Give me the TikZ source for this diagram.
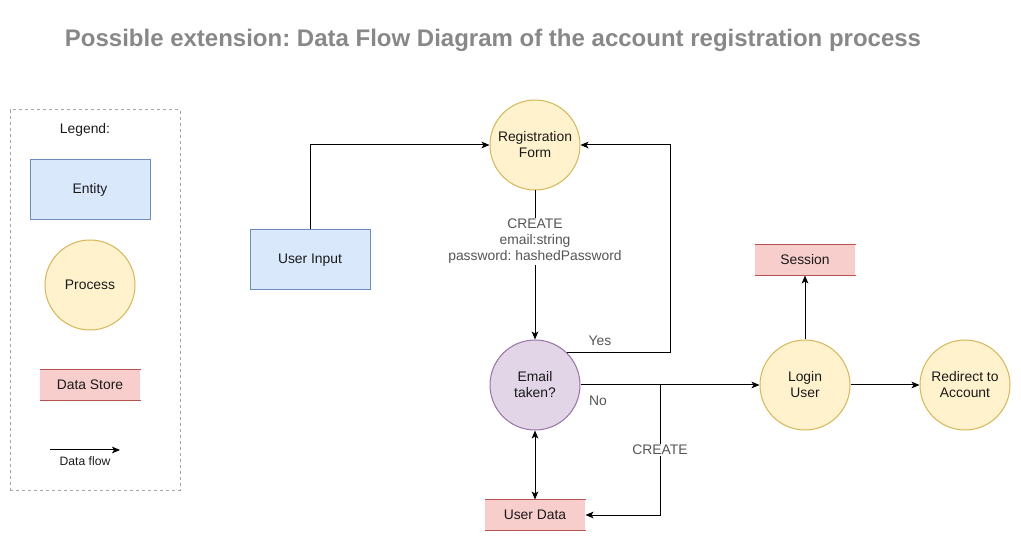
\documentclass[tikz,border=0pt]{standalone}
\usepackage{fontspec}
\setmainfont{Liberation Sans}
\frenchspacing
\usetikzlibrary{arrows.meta}
\definecolor{entityfill}{HTML}{DAE8FC}
\definecolor{entityline}{HTML}{6C8EBF}
\definecolor{procfill}{HTML}{FFF2CC}
\definecolor{procline}{HTML}{D6B656}
\definecolor{decfill}{HTML}{E1D5E7}
\definecolor{decline}{HTML}{9673A6}
\definecolor{storefill}{HTML}{F8CECC}
\definecolor{storeline}{HTML}{B85450}
\definecolor{titlegray}{HTML}{888888}
\definecolor{lblgray}{HTML}{555555}
\definecolor{txt}{HTML}{1A1A1A}
\begin{document}
\begin{tikzpicture}[x=0.75pt,y=-0.75pt,line width=0.75pt,
    >={Stealth[length=6pt,width=5pt,inset=1.5pt]},
    font=\fontsize{10.4}{12}\selectfont,
    entity/.style={draw=entityline,fill=entityfill,text=txt,minimum width=90pt,minimum height=45pt,inner sep=0pt},
    process/.style={circle,draw=procline,fill=procfill,text=txt,minimum size=67.5pt,inner sep=0pt,align=center},
    decision/.style={process,draw=decline,fill=decfill},
    datastore/.style={fill=storefill,text=txt,minimum width=75pt,minimum height=22.5pt,inner sep=0pt,
        append after command={(\tikzlastnode.north west) edge[draw=storeline] (\tikzlastnode.north east)
            (\tikzlastnode.south west) edge[draw=storeline] (\tikzlastnode.south east)}},
    lbl/.style={text=lblgray,align=center,inner sep=1pt}]
    \useasboundingbox (0,0) rectangle (1021,541);

    % title
    \node[text=titlegray,font=\fontsize{18}{21}\selectfont\bfseries] (title) at (493,40) {Possible extension: Data Flow Diagram of the account registration process};

    % legend
    \node[draw=gray!70,dash pattern=on 2.25pt off 2.25pt,minimum width=127.5pt,minimum height=285pt,inner sep=0pt] (legendbox) at (95,300) {};
    \node[text=txt] (legendtitle) at (85,130) {Legend:};
    \node[entity] (entitykey) at (90,190) {Entity};
    \node[process] (processkey) at (90,285) {Process};
    \node[datastore] (storekey) at (90,385) {Data Store};
    \coordinate (flowstart) at (50,450);
    \coordinate (flowend) at (120,450);
    \draw[->] (flowstart) -- (flowend);
    \node[text=txt,font=\fontsize{9.1}{11}\selectfont] (flowkey) at (85,461) {Data flow};

    % diagram
    \node[entity] (userinput) at (310,260) {User Input};
    \node[process] (regform) at (535,145) {Registration\\Form};
    \node[decision] (email) at (535,385) {Email\\taken?};
    \node[process] (login) at (805,385) {Login\\User};
    \node[process] (redirect) at (965,385) {Redirect to\\Account};
    \node[datastore] (session) at (805,260) {Session};
    \node[datastore] (userdata) at (535,515) {User Data};

    \coordinate (yesturn) at (670,145);
    \coordinate (split) at (660,385);

    \draw[->] (userinput.north) |- (regform.west);
    \draw[->] (regform.south) -- node[lbl,fill=white,pos=0.34] (createlbl) {CREATE\\email:string\\password: hashedPassword} (email.north);
    \draw[->] (email.45) -| (yesturn) -- (regform.east);
    \node[lbl] (yes) at (600,341) {Yes};
    \draw[->] (email.east) -- (login.west);
    \node[lbl] (no) at (598,401) {No};
    \draw[->] (split) |- node[lbl,fill=white,pos=0.25] (createdata) {CREATE} (userdata.east);
    \draw[<->] (email.south) -- (userdata.north);
    \draw[->] (login.north) -- (session.south);
    \draw[->] (login.east) -- (redirect.west);
\end{tikzpicture}
\end{document}
